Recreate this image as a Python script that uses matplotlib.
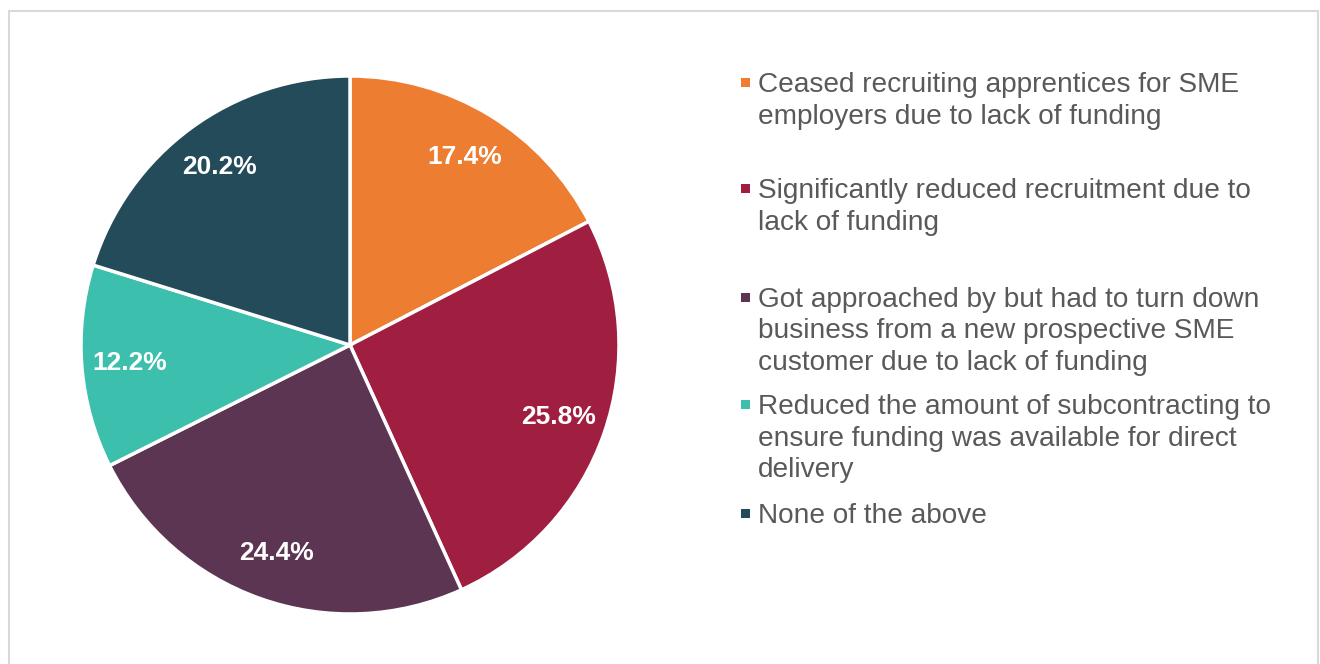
import matplotlib.pyplot as plt
from matplotlib.patches import Rectangle

plt.rcParams['font.family'] = ['Liberation Sans', 'DejaVu Sans']

# survey responses (% of providers)
categories = [
    "Ceased recruiting apprentices for SME\nemployers due to lack of funding",
    "Significantly reduced recruitment due to\nlack of funding",
    "Got approached by but had to turn down\nbusiness from a new prospective SME\ncustomer due to lack of funding",
    "Reduced the amount of subcontracting to\nensure funding was available for direct\ndelivery",
    "None of the above",
]
shares = [17.4, 25.8, 24.4, 12.2, 20.2]
colors = ['#ED7D31', '#A01F40', '#5C3553', '#3DBFAD', '#244B5A']

W, H = 1320, 664
fig = plt.figure(figsize=(W / 100, H / 100), dpi=100)
fig.patch.set_facecolor('white')

# outer frame
fig.add_artist(Rectangle((9 / W, -0.05), (1318 - 9) / W, 1.05 - 11 / H,
                         transform=fig.transFigure, fill=False,
                         edgecolor='#D9D9D9', linewidth=1.5))

# pie: centre (350, 345) px, radius 269 px
cx, cy, r = 350, 345, 269
ax = fig.add_axes([(cx - r) / W, (H - cy - r) / H, 2 * r / W, 2 * r / H])
wedges, texts = ax.pie(
    shares, colors=colors, startangle=90, counterclock=False,
    labels=[f"{v:.1f}%" for v in shares], labeldistance=0.82,
    wedgeprops=dict(edgecolor='white', linewidth=2.5),
    textprops=dict(color='white', fontsize=19, fontweight='bold',
                   ha='center', va='center'))
for w in wedges:
    w.set_clip_on(False)
ax.set_xlim(-1, 1)
ax.set_ylim(-1, 1)
ax.set_aspect('equal')
ax.axis('off')

# legend drawn by hand so the wrapping and spacing follow the layout
baselines = [92, 198, 307, 414, 523]
line_gap = 31.5
for label, col, yb in zip(categories, colors, baselines):
    for i, line in enumerate(label.split('\n')):
        fig.text(758 / W, 1 - (yb + i * line_gap) / H, line, fontsize=20.2,
                 color='#595959', ha='left', va='baseline')
    fig.add_artist(Rectangle((741 / W, 1 - (yb - 5) / H), 9 / W, 9 / H,
                             transform=fig.transFigure, facecolor=col,
                             edgecolor='none'))

fig.savefig('out.png', dpi=100)
